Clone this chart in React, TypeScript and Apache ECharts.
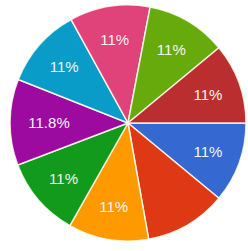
import React, { useEffect, useRef } from "react";
import * as echarts from "echarts";

const categories = ["A", "B", "C", "D", "E", "F", "G", "H", "I"];
const values = [11, 11.2, 11, 11, 11.8, 11, 11, 11, 11];
const showLabel = [true, false, true, true, true, true, true, true, true];
const colors = ["#3568d0", "#de3914", "#ff9900", "#129a1c", "#9c0aa0", "#0a9cc8", "#df437a", "#66aa0c", "#bb2e30"];

export default function App() {
  const ref = useRef<HTMLDivElement>(null);
  useEffect(() => {
    if (!ref.current) return;
    const chart = echarts.init(ref.current, undefined, { renderer: "svg" });
    const slices = categories.map((c, i) => ({
      name: c,
      value: values[i],
      itemStyle: { color: colors[i] },
    }));
    const labelSlices = categories.map((c, i) => ({
      name: c,
      value: values[i],
      label: i === 4 ? { show: showLabel[i], padding: [0, 0, 0, 12] } : { show: showLabel[i] },
    }));
    chart.setOption({
      animation: false,
      series: [
        {
          type: "pie",
          center: [128, 123],
          radius: [0, 118],
          startAngle: 0,
          clockwise: true,
          label: { show: false },
          labelLine: { show: false },
          itemStyle: { borderColor: "rgba(255,255,240,0.85)", borderWidth: 1.5 },
          silent: true,
          data: slices,
        },
        {
          type: "pie",
          center: [128, 123],
          radius: [46, 118],
          startAngle: 0,
          clockwise: true,
          silent: true,
          itemStyle: { color: "rgba(0,0,0,0)" },
          labelLine: { show: false },
          label: {
            position: "inside",
            color: "#f4f4f4",
            fontSize: 15,
            fontFamily: "Liberation Sans, Arial, sans-serif",
            formatter: (p: any) => p.value + "%",
          },
          data: labelSlices,
        },
      ],
    });
    return () => chart.dispose();
  }, []);
  return (
    <div
      ref={ref}
      style={{ position: "fixed", left: 0, top: 0, width: 248, height: 251, background: "#fff" }}
    />
  );
}
